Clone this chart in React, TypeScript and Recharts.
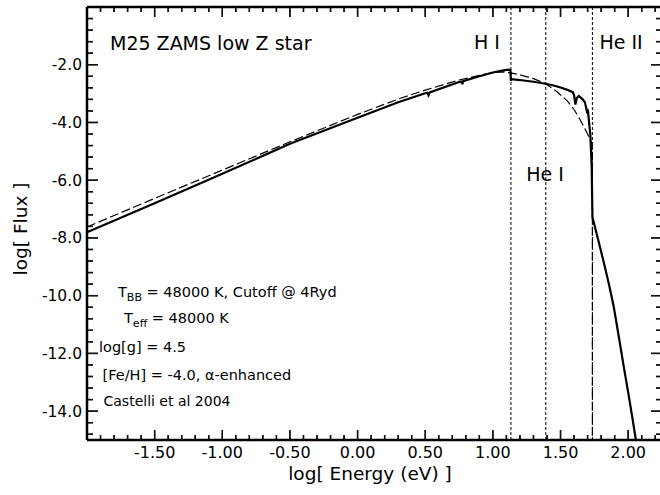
import React from "react";
import { LineChart, Line, XAxis, YAxis, ReferenceLine } from "recharts";

// Castelli et al 2004 model spectrum: log E (eV) vs log Flux
const castelliEnergy = [
  -2.0, -1.5, -1.0, -0.5, 0.0, 0.3, 0.5, 0.515, 0.524, 0.533, 0.75, 0.77, 0.775, 0.78,
  0.9, 1.0, 1.05, 1.1, 1.125, 1.13, 1.133, 1.137, 1.2, 1.3, 1.39, 1.45, 1.5, 1.55, 1.59,
  1.6, 1.61, 1.62, 1.635, 1.66, 1.68, 1.69, 1.697, 1.702, 1.71, 1.72, 1.73, 1.736, 1.78,
  1.82, 1.86, 1.894, 1.93, 1.967, 2.0, 2.03, 2.057,
];
const castelliFlux = [
  -7.8, -6.8, -5.78, -4.74, -3.84, -3.3, -2.99, -2.97, -3.06, -2.96, -2.6, -2.58, -2.68, -2.57,
  -2.4, -2.27, -2.22, -2.18, -2.17, -2.2, -2.56, -2.5, -2.53, -2.59, -2.66, -2.72, -2.79, -2.87, -2.95,
  -3.05, -3.38, -3.15, -3.08, -3.18, -3.3, -3.5, -3.68, -3.55, -3.95, -4.4, -5.5, -7.28, -8.1,
  -8.85, -9.65, -10.4, -11.4, -12.45, -13.35, -14.2, -15.0,
];

// Blackbody T = 48000 K with cutoff at 4 Ryd
const bbEnergy = [
  -2.0, -1.5, -1.0, -0.5, 0.0, 0.318, 0.5, 0.75, 0.9, 1.0, 1.07, 1.13, 1.2, 1.3, 1.39,
  1.47, 1.55, 1.6, 1.65, 1.7, 1.7356, 1.7357,
];
const bbFlux = [
  -7.62, -6.63, -5.65, -4.67, -3.72, -3.16, -2.88, -2.53, -2.37, -2.27, -2.25, -2.28, -2.35, -2.48, -2.66,
  -2.92, -3.25, -3.55, -3.95, -4.4, -4.77, -15.0,
];

// Ionisation edges (log eV)
const edgeEnergies = [1.1335, 1.391, 1.7356];

const xLabelTicks = [-1.5, -1.0, -0.5, 0.0, 0.5, 1.0, 1.5, 2.0];
const yLabelTicks = [-2, -4, -6, -8, -10, -12, -14];

const X_DOMAIN: [number, number] = [-2, 2.25];
const Y_DOMAIN: [number, number] = [-15, 0];

const xMinorTicks = Array.from({ length: 42 }, (_, i) => Math.round(i - 19) / 10).filter(
  (v) => v > -2 && v < 2.25
);
const yMinorTicks = Array.from({ length: 37 }, (_, i) => Math.round(-(i + 1) * 4) / 10);

const castelliData = castelliEnergy.map((x, i) => ({ x, y: castelliFlux[i] }));
const bbData = bbEnergy.map((x, i) => ({ x, y: bbFlux[i] }));

const FONT = "DejaVu Sans";
const PLOT_TOP = 7;
const PLOT_LEFT = 87;
const PLOT_RIGHT = 662;
const PLOT_BOTTOM = 440;
// pixels per data unit (used only to turn tick lengths in px into data units)
const X_PX = (PLOT_RIGHT - PLOT_LEFT) / (X_DOMAIN[1] - X_DOMAIN[0]);
const Y_PX = (PLOT_BOTTOM - PLOT_TOP) / (Y_DOMAIN[1] - Y_DOMAIN[0]);

const near = (a: number, b: number) => Math.abs(a - b) < 1e-6;
const isMajorX = (v: number) => near(v * 2, Math.round(v * 2));
const isMajorY = (v: number) => near(v / 2, Math.round(v / 2));
const xTickPx = (v: number) => (isMajorX(v) ? 10 : 5);
const yTickPx = (v: number) => (isMajorY(v) ? 11 : 6);

const TICK_COLOR = "#111";
const TICK_W = 1.4;

const renderBottomTick = (props: any) => {
  const x = Number(props.x);
  const y = Number(props.y);
  const v = Number(props.payload.value);
  const labeled = xLabelTicks.some((t) => near(t, v));
  const len = xTickPx(v);
  return (
    <g>
      <line x1={x} x2={x} y1={y} y2={y - len} stroke={TICK_COLOR} strokeWidth={TICK_W} />
      <line x1={x} x2={x} y1={PLOT_TOP} y2={PLOT_TOP + len} stroke={TICK_COLOR} strokeWidth={TICK_W} />
      {labeled && (
        <text x={x} y={y + 18} textAnchor="middle" fontSize={16} fontFamily={FONT} fill="#000">
          {v.toFixed(2)}
        </text>
      )}
    </g>
  );
};

const renderLeftTick = (props: any) => {
  const x = Number(props.x);
  const y = Number(props.y);
  const v = Number(props.payload.value);
  const labeled = yLabelTicks.some((t) => near(t, v));
  const len = yTickPx(v);
  return (
    <g>
      <line x1={x} x2={x + len} y1={y} y2={y} stroke={TICK_COLOR} strokeWidth={TICK_W} />
      <line x1={PLOT_RIGHT} x2={PLOT_RIGHT - len} y1={y} y2={y} stroke={TICK_COLOR} strokeWidth={TICK_W} />
      {labeled && (
        <text x={x - 5} y={y + 5.5} textAnchor="end" fontSize={15.5} fontFamily={FONT} fill="#000">
          {v.toFixed(1)}
        </text>
      )}
    </g>
  );
};

const renderAnnotations = () => (
  <g fontFamily={FONT} fill="#000">
    <text x={110} y={50} fontSize={19}>M25 ZAMS low Z star</text>
    <text x={487} y={48.5} fontSize={19} textAnchor="middle">H I</text>
    <text x={545} y={181} fontSize={19} textAnchor="middle">He I</text>
    <text x={621} y={48.5} fontSize={19} textAnchor="middle">He II</text>
    <text x={118} y={296.5} fontSize={14.5}>
      T<tspan fontSize={11} dy={4}>BB</tspan>
      <tspan dy={-4}> = 48000 K, Cutoff @ 4Ryd</tspan>
    </text>
    <text x={124} y={323} fontSize={14.5}>
      T<tspan fontSize={11} dy={4}>eff</tspan>
      <tspan dy={-4}> = 48000 K</tspan>
    </text>
    <text x={99} y={351.5} fontSize={14.5}>log[g] = 4.5</text>
    <text x={102.5} y={380} fontSize={14.5}>[Fe/H] = -4.0, α-enhanced</text>
    <text x={103.5} y={406} fontSize={14}>Castelli et al 2004</text>
    <text x={370} y={480} fontSize={18.5} textAnchor="middle">log[ Energy (eV) ]</text>
    <text x={27} y={229} fontSize={18.5} textAnchor="middle" transform="rotate(-90 27 229)">log[ Flux ]</text>
  </g>
);

const axisLine = { stroke: "#000", strokeWidth: 2.5 };

export default function App() {
  return (
    <div style={{ position: "absolute", left: 0, top: 0, width: 660, height: 495, overflow: "hidden" }}>
      <LineChart width={663} height={495} margin={{ top: PLOT_TOP, right: 663 - PLOT_RIGHT, left: 0, bottom: 0 }}>
        <XAxis
          xAxisId="b"
          type="number"
          dataKey="x"
          domain={X_DOMAIN}
          ticks={xMinorTicks}
          interval={0}
          tickSize={0}
          tickMargin={0}
          tickLine={false}
          tick={renderBottomTick}
          axisLine={axisLine}
          height={495 - PLOT_BOTTOM}
        />
        <YAxis
          yAxisId="l"
          type="number"
          domain={Y_DOMAIN}
          ticks={yMinorTicks}
          interval={0}
          tickSize={0}
          tickMargin={0}
          tickLine={false}
          tick={renderLeftTick}
          axisLine={axisLine}
          width={PLOT_LEFT}
          label={{ content: renderAnnotations }}
        />
        {/* top border of the frame */}
        <ReferenceLine y={0} xAxisId="b" yAxisId="l" ifOverflow="visible" stroke="#000" strokeWidth={2.5} />
        {/* tick marks on all four sides, drawn through the axis scales */}
        {xMinorTicks.map((v) => (
          <ReferenceLine
            key={`xb${v}`}
            xAxisId="b"
            yAxisId="l"
            ifOverflow="visible"
            segment={[{ x: v, y: Y_DOMAIN[0] }, { x: v, y: Y_DOMAIN[0] + xTickPx(v) / Y_PX }]}
            stroke={TICK_COLOR}
            strokeWidth={TICK_W}
          />
        ))}
        {xMinorTicks.map((v) => (
          <ReferenceLine
            key={`xt${v}`}
            xAxisId="b"
            yAxisId="l"
            ifOverflow="visible"
            segment={[{ x: v, y: Y_DOMAIN[1] }, { x: v, y: Y_DOMAIN[1] - xTickPx(v) / Y_PX }]}
            stroke={TICK_COLOR}
            strokeWidth={TICK_W}
          />
        ))}
        {yMinorTicks.map((v) => (
          <ReferenceLine
            key={`yl${v}`}
            xAxisId="b"
            yAxisId="l"
            ifOverflow="visible"
            segment={[{ x: X_DOMAIN[0], y: v }, { x: X_DOMAIN[0] + yTickPx(v) / X_PX, y: v }]}
            stroke={TICK_COLOR}
            strokeWidth={TICK_W}
          />
        ))}
        {yMinorTicks.map((v) => (
          <ReferenceLine
            key={`yr${v}`}
            xAxisId="b"
            yAxisId="l"
            ifOverflow="visible"
            segment={[{ x: X_DOMAIN[1], y: v }, { x: X_DOMAIN[1] - yTickPx(v) / X_PX, y: v }]}
            stroke={TICK_COLOR}
            strokeWidth={TICK_W}
          />
        ))}
        {edgeEnergies.map((e) => (
          <ReferenceLine
            key={e}
            x={e}
            xAxisId="b"
            yAxisId="l"
            stroke="#000"
            strokeWidth={1}
            strokeDasharray="3 2"
          />
        ))}
        <Line
          data={bbData}
          xAxisId="b"
          yAxisId="l"
          dataKey="y"
          type="linear"
          stroke="#000"
          strokeWidth={1.2}
          strokeDasharray="9 3.5"
          dot={false}
          isAnimationActive={false}
        />
        <Line
          data={castelliData}
          xAxisId="b"
          yAxisId="l"
          dataKey="y"
          type="linear"
          stroke="#000"
          strokeWidth={2.2}
          dot={false}
          isAnimationActive={false}
        />
      </LineChart>
    </div>
  );
}
